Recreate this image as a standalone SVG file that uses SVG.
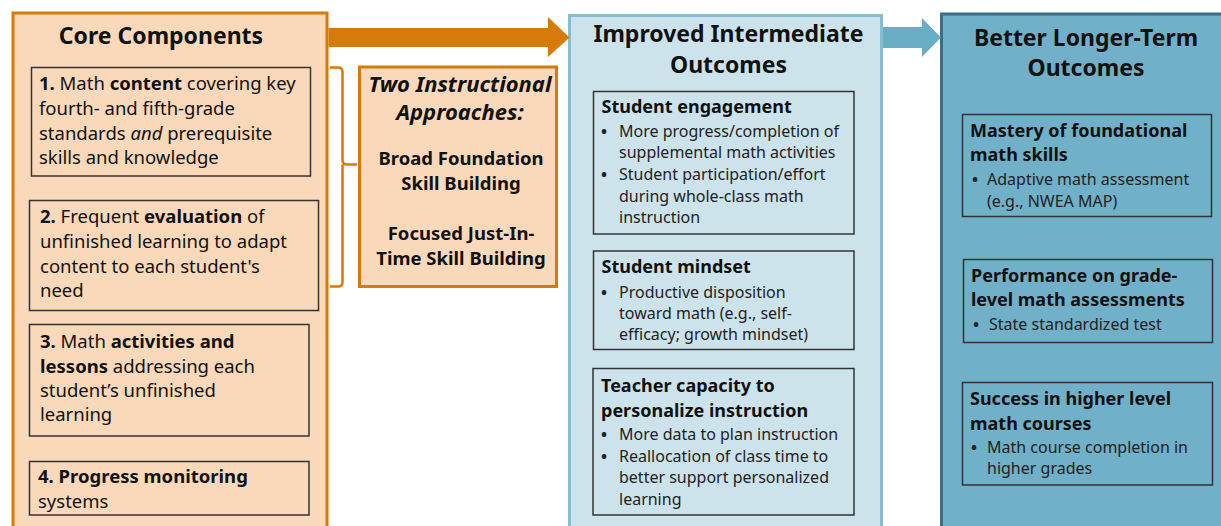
<svg xmlns="http://www.w3.org/2000/svg" width="1221" height="526" viewBox="0 0 1221 526">
<style>
text{font-family:"Noto Sans","Open Sans","Liberation Sans",sans-serif;fill:#111;}
.h{font-weight:bold;font-size:23px;text-anchor:middle;}
.t{font-size:18.5px;}
.b{font-weight:bold;}
.i{font-style:italic;}
.st{font-size:18px;font-weight:bold;}
.bl{font-size:16px;fill:#222;}
.dot{font-size:16px;font-weight:bold;fill:#222;}
.inner{fill:none;stroke:#333;stroke-width:1.5;}
.ap{font-size:18.5px;font-weight:bold;text-anchor:middle;}
.ai{font-size:22px;font-weight:bold;font-style:italic;text-anchor:middle;}
</style>
<rect width="1221" height="526" fill="#fff"/>
<g id="core">
<rect x="13" y="13" width="314" height="530" fill="#F9D9BA" stroke="#D67A0A" stroke-width="3"/>
<text class="h" x="161" y="44">Core Components</text>
</g>
<g id="c1">
<rect class="inner" x="31.5" y="67.5" width="279" height="108.5"/>
<text class="t" x="39" y="90"><tspan class="b">1.</tspan> Math <tspan class="b">content</tspan> covering key</text>
<text class="t" x="39" y="115">fourth- and fifth-grade</text>
<text class="t" x="39" y="139.5">standards <tspan class="i">and</tspan> prerequisite</text>
<text class="t" x="39" y="164">skills and knowledge</text>
</g>
<g id="c2">
<rect class="inner" x="29.5" y="200.5" width="289" height="110"/>
<text class="t" x="40" y="223"><tspan class="b">2.</tspan> Frequent <tspan class="b">evaluation</tspan> of</text>
<text class="t" x="40" y="248">unfinished learning to adapt</text>
<text class="t" x="40" y="272.5">content to each student's</text>
<text class="t" x="40" y="297">need</text>
</g>
<g id="c3">
<rect class="inner" x="29.5" y="324.5" width="279.5" height="111.5"/>
<text class="t" x="40" y="348"><tspan class="b">3.</tspan> Math <tspan class="b">activities and</tspan></text>
<text class="t" x="40" y="372.5"><tspan class="b">lessons</tspan> addressing each</text>
<text class="t" x="40" y="397">student’s unfinished</text>
<text class="t" x="40" y="421">learning</text>
</g>
<g id="c4">
<rect class="inner" x="29.5" y="461.5" width="279.5" height="53.5"/>
<text class="t" x="38" y="483"><tspan class="b">4. Progress monitoring</tspan></text>
<text class="t" x="38" y="508">systems</text>
</g>
<g id="approaches">
<rect x="359.5" y="67" width="197" height="219.5" fill="#F9D9BA" stroke="#D67A0A" stroke-width="3"/>
<text class="ai" x="460" y="92">Two Instructional</text>
<text class="ai" x="460" y="120">Approaches:</text>
<text class="ap" x="461" y="165">Broad Foundation</text>
<text class="ap" x="461" y="190">Skill Building</text>
<text class="ap" x="461" y="240">Focused Just-In-</text>
<text class="ap" x="461" y="265">Time Skill Building</text>
</g>
<g id="intermediate">
<rect x="569.5" y="15.5" width="312" height="530" fill="#CCE3EC" stroke="#86BDD2" stroke-width="3"/>
<text class="h" x="728.5" y="42">Improved Intermediate</text>
<text class="h" x="728.5" y="73">Outcomes</text>
</g>
<g id="engagement">
<rect class="inner" x="593.5" y="91.5" width="260.5" height="142.5"/>
<text class="st" x="601.5" y="113">Student engagement</text>
<text class="dot" x="601" y="136.5">•</text><text class="bl" x="619" y="136.5">More progress/completion of</text>
<text class="bl" x="619" y="158">supplemental math activities</text>
<text class="dot" x="601" y="180">•</text><text class="bl" x="619" y="180">Student participation/effort</text>
<text class="bl" x="619" y="201.5">during whole-class math</text>
<text class="bl" x="619" y="222.5">instruction</text>
</g>
<g id="mindset">
<rect class="inner" x="593.5" y="251" width="260.5" height="98.5"/>
<text class="st" x="601.5" y="273">Student mindset</text>
<text class="dot" x="601" y="298">•</text><text class="bl" x="619" y="298">Productive disposition</text>
<text class="bl" x="619" y="319">toward math (e.g., self-</text>
<text class="bl" x="619" y="340">efficacy; growth mindset)</text>
</g>
<g id="teacher">
<rect class="inner" x="593" y="368.5" width="261" height="146.5"/>
<text class="st" x="601" y="391.5">Teacher capacity to</text>
<text class="st" x="601" y="416.5">personalize instruction</text>
<text class="dot" x="601" y="440">•</text><text class="bl" x="619" y="440">More data to plan instruction</text>
<text class="dot" x="601" y="461.5">•</text><text class="bl" x="619" y="461.5">Reallocation of class time to</text>
<text class="bl" x="619" y="483">better support personalized</text>
<text class="bl" x="619" y="505">learning</text>
</g>
<g id="longer">
<rect x="941.5" y="14" width="300" height="530" fill="#70B0C8" stroke="#3B6E82" stroke-width="3"/>
<text class="h" x="1086" y="46">Better Longer-Term</text>
<text class="h" x="1086" y="76">Outcomes</text>
</g>
<g id="mastery">
<rect class="inner" x="962.5" y="114.5" width="249" height="102"/>
<text class="st" x="970" y="137">Mastery of foundational</text>
<text class="st" x="970" y="161">math skills</text>
<text class="dot" x="972" y="185">•</text><text class="bl" x="987" y="185">Adaptive math assessment</text>
<text class="bl" x="987" y="206.5">(e.g., NWEA MAP)</text>
</g>
<g id="performance">
<rect class="inner" x="963.5" y="259.5" width="249" height="83"/>
<text class="st" x="971" y="282">Performance on grade-</text>
<text class="st" x="971" y="306">level math assessments</text>
<text class="dot" x="973" y="329.5">•</text><text class="bl" x="989" y="329.5">State standardized test</text>
</g>
<g id="success">
<rect class="inner" x="962.5" y="382.5" width="250" height="102.5"/>
<text class="st" x="970" y="405">Success in higher level</text>
<text class="st" x="970" y="430">math courses</text>
<text class="dot" x="971" y="453">•</text><text class="bl" x="987" y="453">Math course completion in</text>
<text class="bl" x="987" y="474">higher grades</text>
</g>
<g id="connectors">
<polygon points="328.5,28 548,28 548,17 569.5,37.5 548,57 548,47 328.5,47" fill="#D67A0A"/>
<polygon points="883,27 922,27 922,18 941,37.5 922,57 922,48 883,48" fill="#6AAEC6"/>
<path d="M330,67.5 H338 Q342.5,67.5 342.5,72 V160 Q342.5,164.5 347,164.5 H357 M342.5,164.5 V282 Q342.5,286.5 338,286.5 H330" fill="none" stroke="#D67A0A" stroke-width="2.5"/>
</g>
</svg>
